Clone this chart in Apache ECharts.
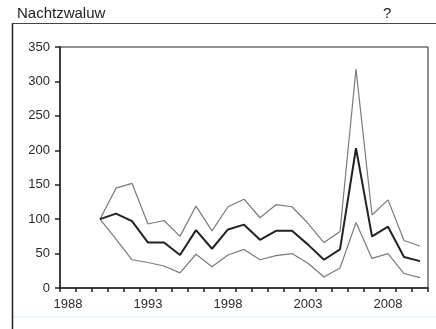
<!DOCTYPE html>
<html>
<head>
<meta charset="utf-8">
<script src="https://cdn.jsdelivr.net/npm/echarts@6/dist/echarts.min.js"></script>
<style>
html,body{margin:0;padding:0;background:#fff;}
#c{width:436px;height:329px;}
</style>
</head>
<body>
<div id="c"></div>
<script>
var years = [];
for (var y = 1988; y <= 2010; y++) years.push(String(y));
var upper = [null, null, 100, 145, 152, 93, 98, 75, 119, 83, 118, 129, 102, 121, 118, 94, 66, 82, 318, 106, 128, 69, 61];
var index = [null, null, 100, 108, 97, 66, 66, 48, 84, 57, 85, 92, 70, 83, 83, 63, 41, 56, 203, 75, 89, 45, 39];
var lower = [null, null, 100, 71, 41, 37, 32, 22, 49, 31, 48, 56, 41, 47, 50, 36, 16, 29, 95, 43, 50, 21, 15];
var yTicks = [0, 350, 50];

var chart = echarts.init(document.getElementById('c'), null, {renderer: 'canvas'});
var font = 'Liberation Sans, Arial, sans-serif';
chart.setOption({
  animation: false,
  backgroundColor: '#ffffff',
  grid: {left: 60, top: 47, right: 8, bottom: 41, show: true, borderColor: '#222', borderWidth: 1, backgroundColor: 'transparent'},
  graphic: [
    {type: 'line', shape: {x1: 12.5, y1: 23, x2: 12.5, y2: 329}, style: {stroke: '#222', lineWidth: 1.5}},
    {type: 'line', shape: {x1: 12, y1: 23.5, x2: 436, y2: 23.5}, style: {stroke: '#444', lineWidth: 1.2}},
    {type: 'line', shape: {x1: 14, y1: 317, x2: 436, y2: 317}, style: {stroke: '#dff3f3', lineWidth: 1.5}},
    {type: 'text', left: 17, top: 6, style: {text: 'Nachtzwaluw', font: '15px ' + font, fill: '#222'}},
    {type: 'text', left: 383, top: 6, style: {text: '?', font: '15px ' + font, fill: '#222'}}
  ],
  xAxis: {
    type: 'category',
    data: years,
    boundaryGap: true,
    axisLine: {lineStyle: {color: '#222', width: 1.5}},
    axisTick: {show: true, interval: 0, length: 4, lineStyle: {color: '#222', width: 1.5}},
    axisLabel: {interval: 4, margin: 10, fontSize: 13, fontFamily: font, color: '#2a2a2a'},
    splitLine: {show: false}
  },
  yAxis: {
    type: 'value',
    min: yTicks[0], max: yTicks[1], interval: yTicks[2],
    axisLine: {show: true, lineStyle: {color: '#222', width: 1.5}},
    axisTick: {show: true, length: 5, lineStyle: {color: '#222', width: 1.5}},
    axisLabel: {margin: 10, fontSize: 13, fontFamily: font, color: '#2a2a2a'},
    splitLine: {show: false}
  },
  series: [
    {type: 'line', data: upper, symbol: 'none', lineStyle: {color: '#7a7a7a', width: 1.2}, z: 2},
    {type: 'line', data: lower, symbol: 'none', lineStyle: {color: '#7a7a7a', width: 1.2}, z: 2},
    {type: 'line', data: index, symbol: 'none', lineStyle: {color: '#222', width: 2}, z: 3}
  ]
});
</script>
</body>
</html>
